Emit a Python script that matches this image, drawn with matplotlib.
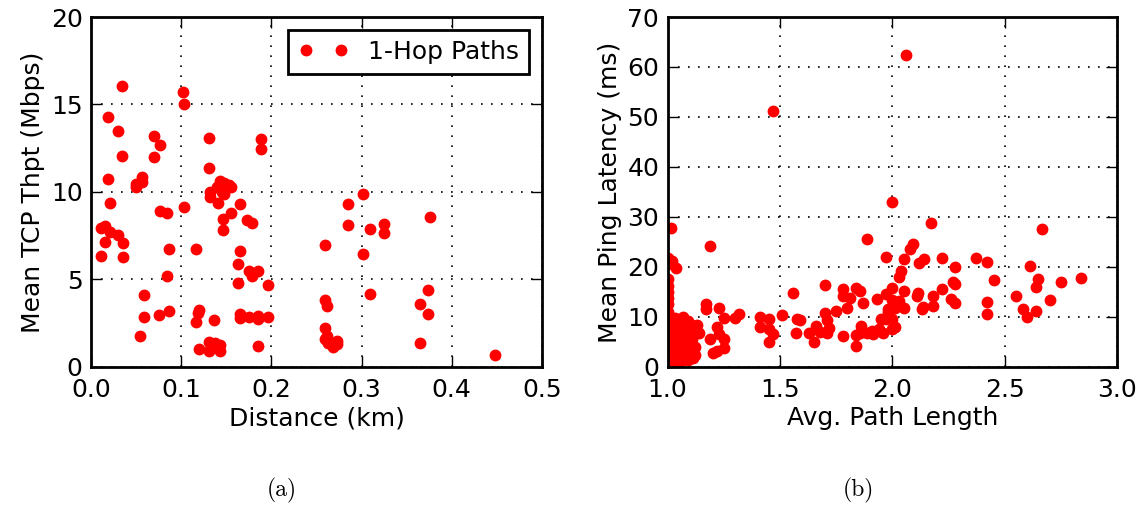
import matplotlib
matplotlib.use('Agg')
import matplotlib.pyplot as plt

# (a) distance vs mean TCP throughput, 1-hop paths
dist_km = [0.034, 0.1017, 0.103, 0.019, 0.030, 0.0695, 0.077, 0.034, 0.0695, 0.131,
           0.189, 0.189, 0.131, 0.019, 0.050, 0.050, 0.057, 0.057, 0.140, 0.143,
           0.147, 0.150, 0.153, 0.145, 0.148, 0.155, 0.132, 0.132, 0.141, 0.165,
           0.021, 0.103, 0.077, 0.084, 0.155, 0.146, 0.146, 0.173, 0.178, 0.011,
           0.016, 0.021, 0.030, 0.016, 0.035, 0.011, 0.035, 0.087, 0.116, 0.165,
           0.163, 0.175, 0.185, 0.178, 0.084, 0.163, 0.196, 0.059, 0.059, 0.075,
           0.087, 0.054, 0.120, 0.119, 0.116, 0.136, 0.165, 0.165, 0.175, 0.185,
           0.185, 0.196, 0.131, 0.137, 0.143, 0.120, 0.131, 0.143, 0.185, 0.302,
           0.285, 0.285, 0.309, 0.325, 0.325, 0.3755, 0.259, 0.302, 0.309, 0.374,
           0.365, 0.374, 0.259, 0.262, 0.259, 0.262, 0.259, 0.263, 0.268, 0.273,
           0.273, 0.365, 0.448]
thpt_mbps = [16.05, 15.7, 15.03, 14.3, 13.5, 13.2, 12.67, 12.08, 12.0, 13.09,
             13.0, 12.44, 11.35, 10.73, 10.46, 10.27, 10.84, 10.57, 10.3, 10.6,
             10.5, 10.2, 10.4, 10.0, 9.9, 10.3, 10.0, 9.73, 9.39, 9.31,
             9.35, 9.12, 8.9, 8.78, 8.78, 8.46, 7.83, 8.4, 8.25, 7.96,
             8.07, 7.7, 7.54, 7.16, 7.1, 6.34, 6.29, 6.76, 6.76, 6.61,
             5.87, 5.5, 5.46, 5.2, 5.22, 4.78, 4.67, 4.1, 2.84, 2.97,
             3.2, 1.77, 3.26, 3.07, 2.55, 2.69, 3.03, 2.8, 2.84, 2.93,
             2.76, 2.84, 1.45, 1.35, 1.26, 1.01, 0.9, 0.93, 1.22, 9.87,
             9.31, 8.11, 7.87, 8.15, 7.64, 8.55, 6.95, 6.46, 4.17, 4.4,
             3.6, 3.01, 3.85, 3.49, 2.21, 1.77, 1.58, 1.35, 1.16, 1.5,
             1.31, 1.35, 0.67]

# (b) avg path length vs mean ping latency
path_len = [1.014, 1.0, 1.0, 1.038, 1.0, 1.0, 1.0, 1.0, 1.0, 1.0, 1.0, 1.0, 1.0,
            1.0, 1.0, 1.0, 1.0, 1.0, 1.0, 1.0, 1.0, 1.0, 1.0, 1.0,
            1.02, 1.03, 1.05, 1.07, 1.09, 1.04, 1.06, 1.08, 1.10, 1.02, 1.04, 1.06,
            1.08, 1.10, 1.12, 1.13, 1.14, 1.11, 1.03, 1.05, 1.07, 1.09, 1.12, 1.02,
            1.04, 1.06, 1.08, 1.10, 1.115, 1.03, 1.01, 1.05, 1.09, 1.12, 1.015, 1.025,
            1.035, 1.045,
            1.19, 1.22, 1.23, 1.25, 1.25, 1.22, 1.20, 1.17, 1.17, 1.23, 1.25, 1.32,
            1.30, 1.189, 1.019,
            1.41, 1.41, 1.45, 1.45, 1.47, 1.45, 1.51, 1.56, 1.574, 1.59, 1.571, 1.63,
            1.65, 1.66, 1.70, 1.70, 1.68, 1.71, 1.72, 1.71, 1.75, 1.78, 1.78, 1.81,
            1.84, 1.80, 1.87, 1.78, 1.84, 1.84, 1.86, 1.885, 1.885, 1.47, 2.06, 2.0,
            2.17, 2.09, 2.08, 1.97, 2.05, 2.14, 2.12, 2.22, 2.28, 2.04, 2.03, 2.27,
            2.28, 2.0, 2.05, 1.97, 1.93, 1.855, 2.115, 2.11, 2.18, 2.22, 2.26, 2.28,
            2.0, 2.03, 2.05, 2.01, 1.98, 1.98, 2.135, 2.13, 2.18, 1.95, 2.0, 2.01,
            2.0, 1.97, 1.855, 1.915, 1.91, 1.94, 1.96,
            2.667, 2.37, 2.42, 2.61, 2.45, 2.65, 2.64, 2.75, 2.84, 2.55, 2.42, 2.70,
            2.42, 2.58, 2.60, 2.64]
latency_ms = [27.8, 21.8, 20.5, 19.7, 17.5, 16.2, 15.0, 13.8, 12.5, 11.0, 10.0, 9.2, 8.5,
              7.6, 7.0, 6.2, 5.5, 4.8, 4.0, 3.3, 2.6, 2.0, 1.5, 1.0,
              9.5, 8.0, 9.0, 9.9, 9.2, 7.2, 6.5, 7.8, 8.5, 5.8, 5.0, 4.2,
              5.5, 6.8, 7.2, 8.3, 6.7, 5.6, 3.5, 2.8, 3.6, 4.5, 4.0, 2.0,
              1.5, 1.2, 2.2, 2.8, 1.8, 0.8, 1.2, 0.6, 1.4, 2.4, 4.5, 6.8,
              9.8, 3.0,
              5.5, 8.0, 6.5, 5.5, 3.8, 3.1, 2.7, 12.6, 11.5, 11.7, 9.8, 10.6,
              9.7, 24.1, 21.1,
              10.0, 8.0, 9.6, 7.6, 6.5, 4.9, 10.4, 14.7, 9.6, 9.3, 6.7, 6.7,
              5.0, 8.1, 16.3, 10.8, 6.9, 9.4, 7.8, 6.8, 11.2, 15.6, 14.1, 13.8,
              15.8, 11.8, 12.7, 6.1, 6.3, 4.1, 8.1, 6.7, 25.5, 51.1, 62.4, 32.9,
              28.8, 24.5, 23.5, 21.9, 21.5, 21.6, 20.7, 21.8, 19.9, 19.1, 18.0, 16.9,
              16.5, 15.8, 15.1, 14.5, 13.6, 15.1, 14.8, 14.1, 14.2, 15.6, 13.6, 12.7,
              13.4, 13.1, 11.8, 11.8, 11.5, 10.9, 12.0, 11.5, 12.1, 9.6, 9.5, 8.0,
              7.5, 9.5, 6.8, 6.5, 7.1, 7.5, 6.7,
              27.5, 21.7, 20.9, 20.1, 17.3, 17.6, 15.9, 16.9, 17.8, 14.2, 12.9, 13.3,
              10.5, 11.5, 10.0, 11.1]

FS = 18

def style_axes(ax):
    ax.grid(True, color='k', linestyle=(0, (1, 5)), linewidth=1.2)
    for s in ax.spines.values():
        s.set_linewidth(2)
    ax.tick_params(direction='in', top=True, right=True, length=8, width=1,
                   labelsize=FS, pad=6)
    ax.tick_params(axis='x', pad=8)

fig = plt.figure(figsize=(11.47, 5.09), dpi=100)
ax1 = fig.add_axes([0.0793, 0.279, 0.3932, 0.6876])
ax2 = fig.add_axes([0.582, 0.279, 0.392, 0.6876])

ax1.plot(dist_km, thpt_mbps, 'o', color='r', ms=7.5, mec='r', label='1-Hop Paths')
ax1.set_xlim(0, 0.5)
ax1.set_ylim(0, 20)
ax1.set_xticks([0.0, 0.1, 0.2, 0.3, 0.4, 0.5])
ax1.set_yticks([0, 5, 10, 15, 20])
ax1.set_xlabel('Distance (km)', fontsize=FS, labelpad=3)
ax1.set_ylabel('Mean TCP Thpt (Mbps)', fontsize=FS)
style_axes(ax1)
leg = ax1.legend(loc='upper right', numpoints=2, fontsize=FS, fancybox=False,
                 framealpha=1, edgecolor='k', borderaxespad=0.5)
leg.get_frame().set_linewidth(2)

ax2.plot(path_len, latency_ms, 'o', color='r', ms=7.5, mec='r')
ax2.set_xlim(1.0, 3.0)
ax2.set_ylim(0, 70)
ax2.set_xticks([1.0, 1.5, 2.0, 2.5, 3.0])
ax2.set_yticks([0, 10, 20, 30, 40, 50, 60, 70])
ax2.set_xlabel('Avg. Path Length', fontsize=FS, labelpad=3)
ax2.set_ylabel('Mean Ping Latency (ms)', fontsize=FS)
style_axes(ax2)

fig.text(0.246, 0.025, '(a)', fontsize=17, family='cmr10', ha='center')
fig.text(0.748, 0.025, '(b)', fontsize=17, family='cmr10', ha='center')

fig.savefig('out.png', dpi=100)
